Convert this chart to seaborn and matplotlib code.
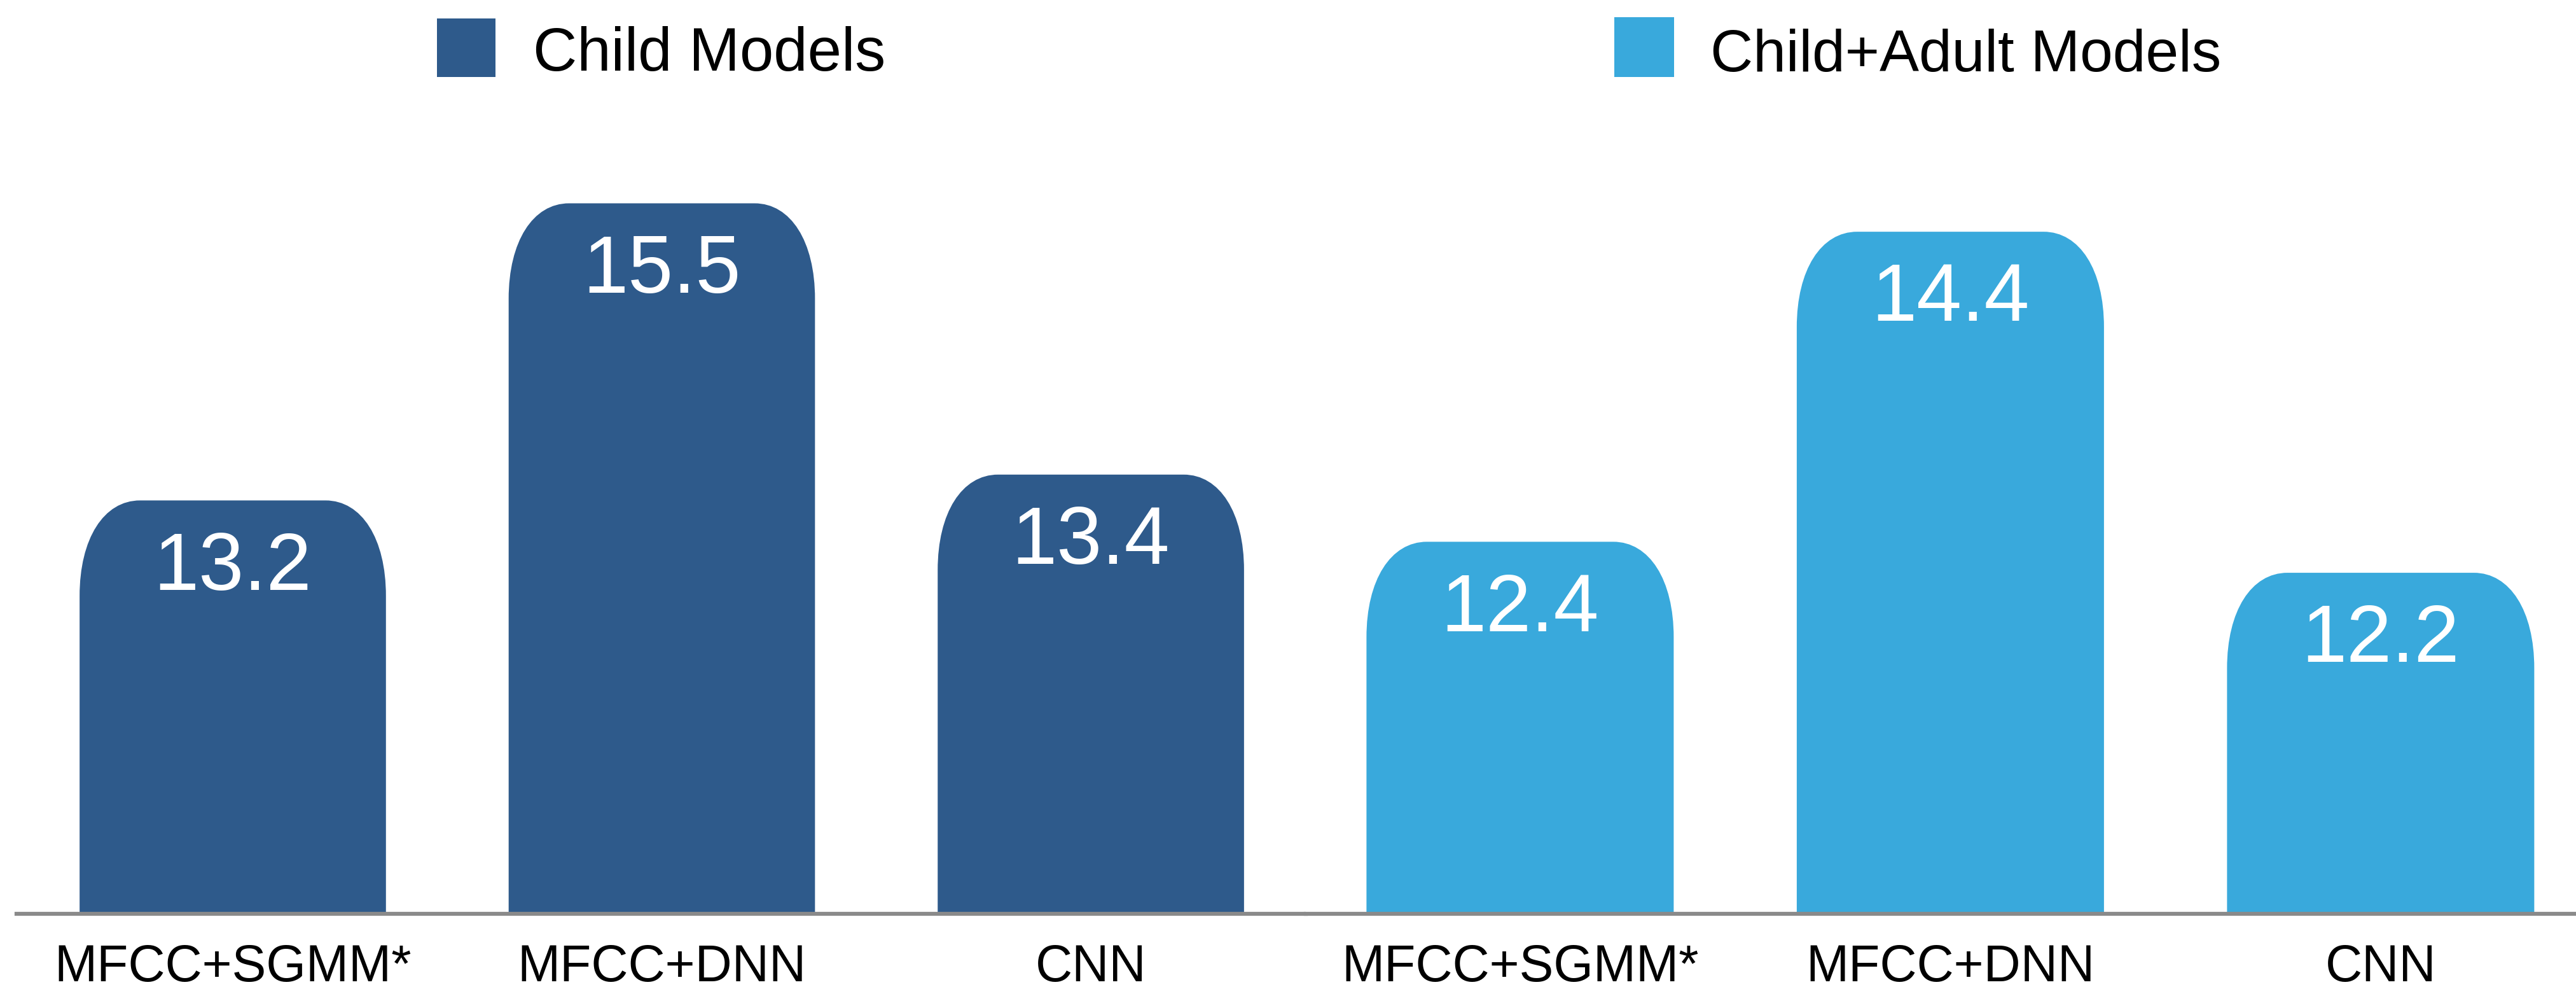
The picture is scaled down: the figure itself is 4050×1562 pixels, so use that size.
import numpy as np
import pandas as pd
import matplotlib
matplotlib.use("Agg")
import matplotlib.pyplot as plt
from matplotlib.path import Path
from matplotlib.patches import PathPatch, Rectangle
import seaborn as sns

# Word error rates (%) for the two training setups
models = ["MFCC+SGMM*", "MFCC+DNN", "CNN"]
child_wer = [13.2, 15.5, 13.4]
child_adult_wer = [12.4, 14.4, 12.2]
series_names = ["Child Models", "Child+Adult Models"]

DARK_BLUE = "#2E5A8B"
LIGHT_BLUE = "#39A9DC"
AXIS_GRAY = "#8A8A8A"

sns.set_theme(style="white")
plt.rcParams["font.family"] = ["Liberation Sans", "DejaVu Sans"]

W, H, DPI = 4050, 1562, 100
fig = plt.figure(figsize=(W / DPI, H / DPI), dpi=DPI)


def px_box(x0, y_top, w, h):
    """Convert a pixel box (top-left origin) to figure fraction."""
    return [x0 / W, (H - y_top - h) / H, w / W, h / H]


ax_left = fig.add_axes(px_box(26, 218, 2027, 1218))
ax_right = fig.add_axes(px_box(2053, 218, 1997, 1218))


def rounded_top(ax, rect, rx_px, ry_px, color):
    """Replace a bar rectangle by a path whose top corners are rounded."""
    x, y0 = rect.get_x(), rect.get_y()
    w, h = rect.get_width(), rect.get_height()
    top = y0 + h
    # pixel -> data conversion for this axes
    bb = ax.get_window_extent()
    xl, yl = ax.get_xlim(), ax.get_ylim()
    rx = rx_px * (xl[1] - xl[0]) / bb.width
    ry = ry_px * (yl[1] - yl[0]) / bb.height
    k = 0.60
    verts = [
        (x, y0),
        (x, top - ry),
        (x, top - ry + k * ry), (x + rx - k * rx, top), (x + rx, top),
        (x + w - rx, top),
        (x + w - rx + k * rx, top), (x + w, top - ry + k * ry), (x + w, top - ry),
        (x + w, y0),
        (x, y0),
    ]
    codes = [Path.MOVETO, Path.LINETO,
             Path.CURVE4, Path.CURVE4, Path.CURVE4,
             Path.LINETO,
             Path.CURVE4, Path.CURVE4, Path.CURVE4,
             Path.LINETO, Path.CLOSEPOLY]
    rect.remove()
    ax.add_patch(PathPatch(Path(verts, codes), facecolor=color,
                           edgecolor="none", zorder=2))


def draw_group(ax, values, color, ymax, xlim):
    df = pd.DataFrame({"model": models, "wer": values})
    sns.barplot(data=df, x="model", y="wer", order=models, color=color,
                saturation=1, width=0.714, ax=ax)
    ax.set_ylim(10, ymax)
    ax.set_xlim(*xlim)
    ax.set_xlabel("")
    ax.set_ylabel("")
    ax.set_yticks([])
    for side in ["left", "right", "top"]:
        ax.spines[side].set_visible(False)
    ax.spines["bottom"].set_color(AXIS_GRAY)
    ax.spines["bottom"].set_linewidth(4.5)
    ax.spines["bottom"].set_zorder(3)
    ax.tick_params(axis="x", length=0, pad=34, labelsize=58,
                   labelcolor="black")
    bars = list(ax.patches)
    for rect, v in zip(bars, values):
        cx = rect.get_x() + rect.get_width() / 2
        ax.annotate(f"{v}", xy=(cx, v), xytext=(0, -101),
                    textcoords="offset points", ha="center", va="baseline",
                    color="white", fontsize=92, zorder=4)
        rounded_top(ax, rect, 95, 150, color)


fig.canvas.draw()
draw_group(ax_left, child_wer, DARK_BLUE, 16, (-0.504, 2.501))
draw_group(ax_right, child_adult_wer, LIGHT_BLUE, 15, (-0.498, 2.454))

# Legend entries along the top
fig.patches.append(Rectangle((687 / W, (H - 121) / H), 92 / W, 92 / H,
                             transform=fig.transFigure, facecolor=DARK_BLUE,
                             edgecolor="none"))
fig.text(838 / W, (H - 111) / H, series_names[0], fontsize=69,
         color="black", ha="left", va="baseline")
fig.patches.append(Rectangle((2538 / W, (H - 121) / H), 94 / W, 94 / H,
                             transform=fig.transFigure, facecolor=LIGHT_BLUE,
                             edgecolor="none"))
fig.text(2689 / W, (H - 112) / H, series_names[1], fontsize=67,
         color="black", ha="left", va="baseline")

fig.savefig("out.png", dpi=DPI, facecolor="white")
